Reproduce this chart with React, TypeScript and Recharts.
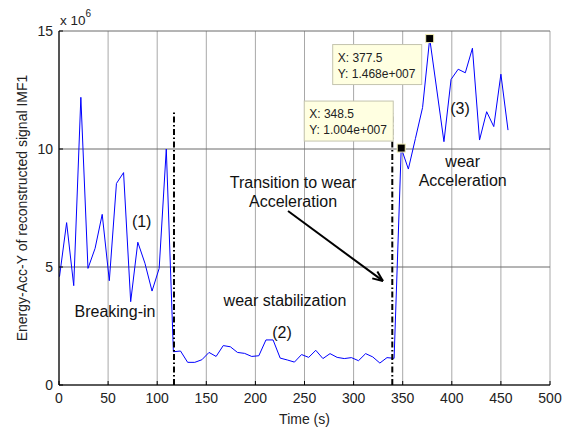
import React from 'react'
import { LineChart, Line, XAxis, YAxis, CartesianGrid, ReferenceLine, ReferenceDot } from 'recharts'

const FONT = '"Liberation Sans", Arial, Helvetica, sans-serif'

// time of each sample (s)
const times = [
	0.5, 7.75, 15, 22.25, 29.5, 36.75, 44, 51.25, 58.5, 65.75, 73, 80.25, 87.5, 94.75, 102, 109.25,
	116.5, 123.75, 131, 138.25, 145.5, 152.75, 160, 167.25, 174.5, 181.75, 189, 196.25, 203.5, 210.75, 218, 225.25,
	232.5, 239.75, 247, 254.25, 261.5, 268.75, 276, 283.25, 290.5, 297.75, 305, 312.25, 319.5, 326.75, 334, 341.25,
	348.5, 355.75, 363, 370.25, 377.5, 384.75, 392, 399.25, 406.5, 413.75, 421, 428.25, 435.5, 442.75, 450, 457.25,
]

// energy of reconstructed IMF1, in units of 1e6
const energy = [
	4.59, 6.88, 4.21, 12.19, 4.94, 5.79, 7.23, 4.42, 8.54, 9.0, 3.53, 6.05, 5.16, 3.98, 4.94, 10.0,
	1.41, 1.44, 0.96, 0.96, 1.07, 1.38, 1.21, 1.67, 1.62, 1.38, 1.34, 1.21, 1.24, 1.91, 1.91, 1.14,
	1.06, 0.97, 1.29, 1.17, 1.47, 1.12, 1.33, 1.17, 1.12, 1.16, 1.03, 1.33, 1.19, 0.93, 1.16, 1.13,
	10.04, 9.15, 10.45, 11.76, 14.68, 12.5, 10.31, 12.95, 13.38, 13.23, 14.27, 10.38, 11.58, 10.95, 13.17, 10.8,
]

const xTicks = [0, 50, 100, 150, 200, 250, 300, 350, 400, 450, 500]
const yTicks = [0, 5, 10, 15]

// phase boundaries (dash-dot lines)
const phaseBounds = [
	{ x: 117.1, top: 11.58 },
	{ x: 339.4, top: 11.5 },
]

// data tips shown on the curve
const dataTips = [
	{ x: 348.5, y: 10.04, label: ['X: 348.5', 'Y: 1.004e+007'], above: true },
	{ x: 377.5, y: 14.68, label: ['X: 377.5', 'Y: 1.468e+007'], above: false },
]

// text annotations (data coordinates)
const notes = [
	{ x: 84.2, y: 6.92, lines: ['(1)'] },
	{ x: 57, y: 3.11, lines: ['Breaking-in'] },
	{ x: 230.1, y: 3.57, lines: ['wear stabilization'] },
	{ x: 227.1, y: 2.2, lines: ['(2)'] },
	{ x: 238.3, y: 8.15, lines: ['Transition to wear', 'Acceleration'] },
	{ x: 408.4, y: 11.69, lines: ['(3)'] },
	{ x: 411.1, y: 9.05, lines: ['wear', 'Acceleration'] },
]

const arrowFrom = { x: 233.2, y: 7.37 }
const arrowTo = { x: 329.9, y: 4.41 }

const rows = times.map((t, i) => ({ t, e: energy[i] }))

const BottomTick = ({ x, y, payload }: any) => (
	<g>
		<line x1={x} x2={x} y1={y} y2={y - 4} stroke="#000" />
		<text x={x} y={y + 18} textAnchor="middle" fontSize={14} fontFamily={FONT} fill="#222">{payload.value}</text>
	</g>
)
const TopTick = ({ x, y }: any) => <line x1={x} x2={x} y1={y} y2={y + 4} stroke="#000" />
const LeftTick = ({ x, y, payload }: any) => (
	<g>
		<line x1={x} x2={x + 4} y1={y} y2={y} stroke="#000" />
		<text x={x - 6} y={y + 5} textAnchor="end" fontSize={14} fontFamily={FONT} fill="#222">{payload.value}</text>
	</g>
)
const RightTick = ({ x, y }: any) => <line x1={x} x2={x - 4} y1={y} y2={y} stroke="#000" />

const YTitle = ({ viewBox }: any) => (
	<text
		transform={`translate(${viewBox.x + 22},${viewBox.y + viewBox.height / 2}) rotate(-90)`}
		textAnchor="middle" dominantBaseline="central" fontSize={14} fontFamily={FONT} fill="#222"
	>
		Energy-Acc-Y of reconstructed signal IMF1
	</text>
)

const XTitle = ({ viewBox }: any) => (
	<text x={viewBox.x + viewBox.width / 2} y={viewBox.y + 39} textAnchor="middle" fontSize={14} fontFamily={FONT} fill="#222">
		Time (s)
	</text>
)

// "x 10^6" multiplier drawn above the top-left corner of the axes
const Exponent = ({ cx, cy }: any) => (
	<text x={cx + 1} y={cy - 6} fontSize={13.5} fontFamily={FONT} fill="#222">
		x 10<tspan dy={-8} fontSize={10}>6</tspan>
	</text>
)

const Note = ({ cx, cy, lines }: any) => (
	<text x={cx} y={cy} textAnchor="middle" fontSize={16} fontFamily={FONT} fill="#111">
		{lines.map((l: string, i: number) => (
			<tspan key={i} x={cx} dy={i === 0 ? 5 - (lines.length - 1) * 9.5 : 19}>{l}</tspan>
		))}
	</text>
)

const TipShape = ({ cx, cy, label, above }: any) => {
	const left = cx - 97
	const top = above ? cy - 47 : cy + 6
	return (
		<g>
			<rect x={left} y={top} width={89} height={40} fill="#ffffe1" stroke="#c4c4ae" />
			<text x={left + 5} y={top + 17} fontSize={12} fontFamily={FONT} fill="#222">{label[0]}</text>
			<text x={left + 5} y={top + 33} fontSize={12} fontFamily={FONT} fill="#222">{label[1]}</text>
			<rect x={cx - 4} y={cy - 4} width={8} height={8} fill="#000" stroke="#f4f0b8" strokeWidth={1} />
		</g>
	)
}

const Arrow = ({ x1, y1, x2, y2 }: any) => {
	const ang = Math.atan2(y2 - y1, x2 - x1)
	const len = 11
	const a1 = ang + Math.PI - 0.4
	const a2 = ang + Math.PI + 0.4
	return (
		<g stroke="#000" strokeWidth={2} fill="none">
			<line x1={x1} y1={y1} x2={x2} y2={y2} />
			<line x1={x2} y1={y2} x2={x2 + len * Math.cos(a1)} y2={y2 + len * Math.sin(a1)} />
			<line x1={x2} y1={y2} x2={x2 + len * Math.cos(a2)} y2={y2 + len * Math.sin(a2)} />
		</g>
	)
}

export default function App() {
	return (
		<div style={{ position: 'absolute', left: 0, top: 0, background: '#fff' }}>
			<LineChart width={571} height={430} data={rows} margin={{ top: 31, right: 21, bottom: 0, left: 0 }}>
				<CartesianGrid horizontal={false} stroke="#a8a8a8" />
				<CartesianGrid vertical={false} stroke="#6a6a6a" />
				<XAxis
					type="number" dataKey="t" domain={[0, 500]} ticks={xTicks} interval={0}
					height={45} tickSize={0} tickMargin={0} tickLine={false}
					axisLine={{ stroke: '#000', strokeWidth: 1.2 }} tick={<BottomTick />}
					label={<XTitle />}
				/>
				<XAxis
					xAxisId="top" orientation="top" type="number" domain={[0, 500]} ticks={xTicks} interval={0}
					height={0} tickSize={0} tickMargin={0} tickLine={false}
					axisLine={{ stroke: '#000', strokeWidth: 1.2 }} tick={<TopTick />}
				/>
				<YAxis
					type="number" domain={[0, 15]} ticks={yTicks} interval={0}
					width={59} tickSize={0} tickMargin={0} tickLine={false}
					axisLine={{ stroke: '#000', strokeWidth: 1.2 }} tick={<LeftTick />}
					label={<YTitle />}
				/>
				<YAxis
					yAxisId="right" orientation="right" type="number" domain={[0, 15]} ticks={yTicks} interval={0}
					width={0} tickSize={0} tickMargin={0} tickLine={false}
					axisLine={{ stroke: '#000', strokeWidth: 1.2 }} tick={<RightTick />}
				/>
				<Line type="linear" dataKey="e" stroke="#0000ff" strokeWidth={1} dot={false} isAnimationActive={false} />
				{phaseBounds.map((b, i) => (
					<ReferenceLine
						key={'b' + i}
						segment={[{ x: b.x, y: 0 }, { x: b.x, y: b.top }]}
						stroke="#000" strokeWidth={2} strokeDasharray="6 2.5 1.5 2.5"
					/>
				))}
				<ReferenceLine segment={[arrowFrom, arrowTo]} shape={<Arrow />} />
				{notes.map((n, i) => (
					<ReferenceDot key={'n' + i} x={n.x} y={n.y} r={0} shape={(p: any) => <Note {...p} lines={n.lines} />} />
				))}
				{dataTips.map((d, i) => (
					<ReferenceDot key={'d' + i} x={d.x} y={d.y} r={4} shape={(p: any) => <TipShape {...p} label={d.label} above={d.above} />} />
				))}
				<ReferenceDot x={0} y={15} r={0} ifOverflow="visible" shape={(p: any) => <Exponent {...p} />} />
			</LineChart>
		</div>
	)
}
